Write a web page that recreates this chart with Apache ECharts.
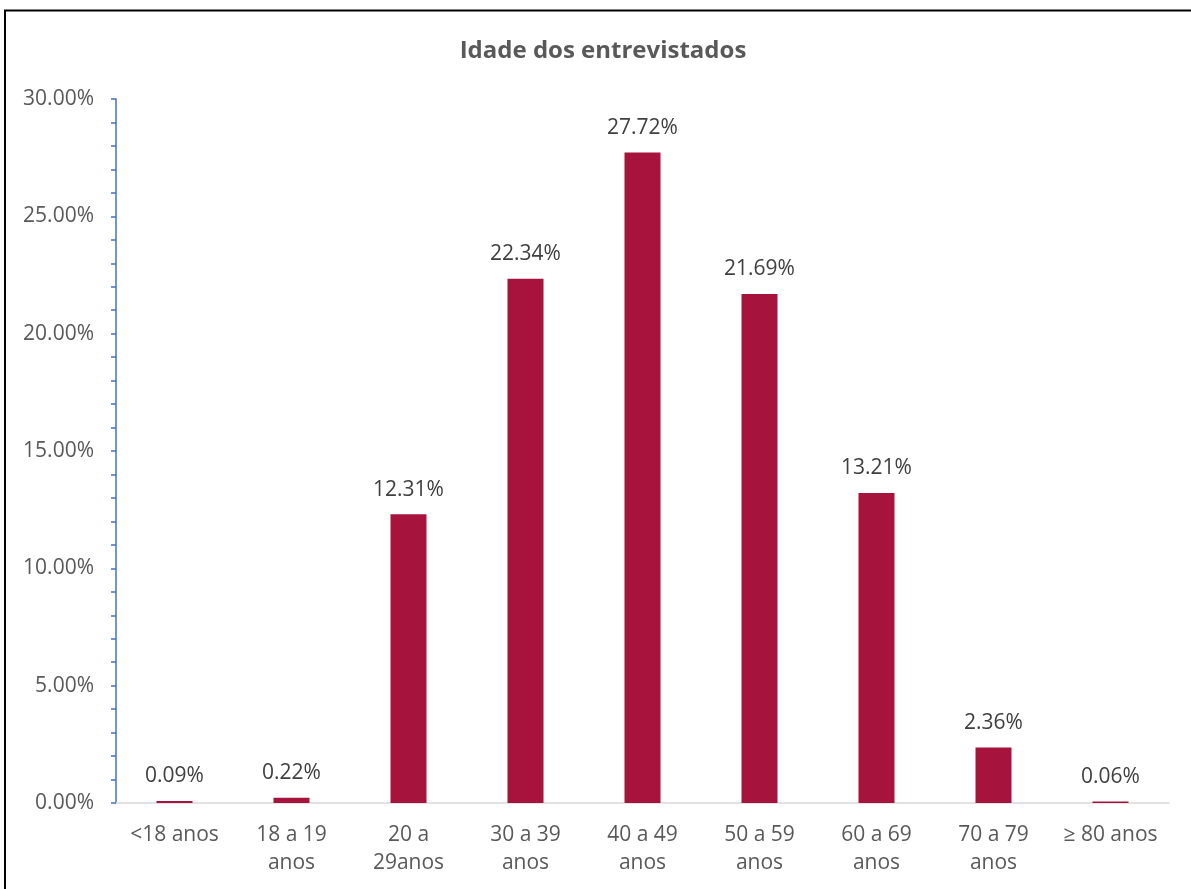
<!DOCTYPE html>
<html>
<head>
<meta charset="utf-8">
<script src="https://cdn.jsdelivr.net/npm/echarts@6/dist/echarts.min.js"></script>
<style>
html,body{margin:0;padding:0;background:#fff;}
#c{width:1191px;height:889px;}
</style>
</head>
<body>
<div id="c"></div>
<script>
const categories = ['<18 anos', '18 a 19\nanos', '20 a\n29anos', '30 a 39\nanos', '40 a 49\nanos', '50 a 59\nanos', '60 a 69\nanos', '70 a 79\nanos', '≥ 80 anos'];
const values = [0.09, 0.22, 12.31, 22.34, 27.72, 21.69, 13.21, 2.36, 0.06];
const titleText = 'Idade dos entrevistados';

const chart = echarts.init(document.getElementById('c'));
const font = '"Open Sans", "Noto Sans", sans-serif';
chart.setOption({
  animation: false,
  backgroundColor: '#fff',
  graphic: [{
    type: 'rect',
    shape: { x: 5, y: 10.5, width: 1250, height: 950 },
    style: { fill: 'none', stroke: '#000', lineWidth: 2 },
    z: 100
  }],
  title: {
    text: titleText,
    left: 598,
    textAlign: 'center',
    top: 34,
    textStyle: { fontFamily: font, fontSize: 24, fontWeight: 'bold', color: '#595959' }
  },
  grid: { left: 116, right: 22, top: 99, bottom: 86, containLabel: false },
  xAxis: {
    type: 'category',
    data: categories,
    axisLine: { lineStyle: { color: '#D9D9D9', width: 1.5 } },
    axisTick: { show: false },
    axisLabel: { fontFamily: font, fontSize: 21, color: '#595959', margin: 18, lineHeight: 28, interval: 0 }
  },
  yAxis: {
    type: 'value',
    min: 0, max: 30, interval: 5,
    axisLine: { show: true, lineStyle: { color: '#4472C4', width: 1.5 } },
    axisTick: { show: true, inside: false, length: 5, lineStyle: { color: '#4472C4', width: 1.5 } },
    minorTick: { show: true, splitNumber: 5, length: 5, lineStyle: { color: '#4472C4', width: 1.5 } },
    splitLine: { show: false },
    axisLabel: { fontFamily: font, fontSize: 21, color: '#595959', margin: 22, formatter: v => v.toFixed(2) + '%' }
  },
  series: [{
    type: 'bar',
    data: values,
    barWidth: 36,
    itemStyle: { color: '#A6133C' },
    label: {
      show: true, position: 'top', distance: 14,
      fontFamily: font, fontSize: 21, color: '#404040',
      formatter: p => p.value.toFixed(2) + '%'
    }
  }]
});
</script>
</body>
</html>
